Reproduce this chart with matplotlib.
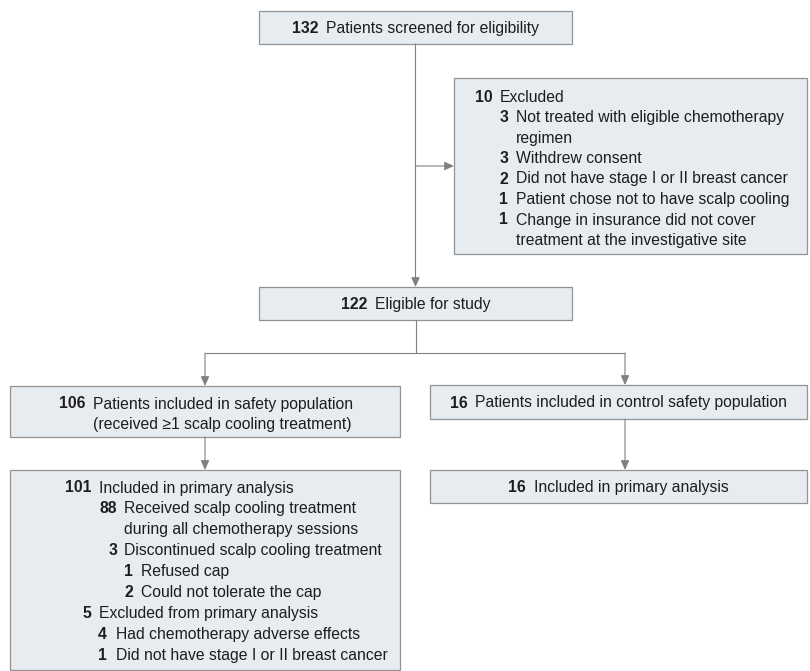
import matplotlib
matplotlib.use("Agg")
import matplotlib.pyplot as plt
from matplotlib.patches import Rectangle, FancyArrowPatch
from matplotlib import font_manager

# ---------------- data ----------------
screened_n = 132
screened_label = "Patients screened for eligibility"

excluded_n = 10
excluded_label = "Excluded"
excluded_reason_n = [3, 3, 2, 1, 1]
excluded_reason_labels = [
    "Not treated with eligible chemotherapy\nregimen",
    "Withdrew consent",
    "Did not have stage I or II breast cancer",
    "Patient chose not to have scalp cooling",
    "Change in insurance did not cover\ntreatment at the investigative site",
]

eligible_n = 122
eligible_label = "Eligible for study"

safety_n = 106
safety_label = "Patients included in safety population\n(received \u22651 scalp cooling treatment)"

control_n = 16
control_label = "Patients included in control safety population"

control_primary_n = 16
control_primary_label = "Included in primary analysis"

primary_n = [101, 88, 3, 1, 2, 5, 4, 1]
primary_labels = [
    "Included in primary analysis",
    "Received scalp cooling treatment\nduring all chemotherapy sessions",
    "Discontinued scalp cooling treatment",
    "Refused cap",
    "Could not tolerate the cap",
    "Excluded from primary analysis",
    "Had chemotherapy adverse effects",
    "Did not have stage I or II breast cancer",
]

# ---------------- style ----------------
available = {f.name for f in font_manager.fontManager.ttflist}
FONT = ["DejaVu Sans"]
for cand in ["Liberation Sans", "Arial", "DejaVu Sans"]:
    if cand in available:
        FONT = [cand, "DejaVu Sans"]
        break
TXT = "#1f1c1d"
FILL = "#e6ecf0"
EDGE = "#939393"
LINE = "#808080"

fig = plt.figure(figsize=(8.10, 6.71), dpi=100)
ax = fig.add_axes([0, 0, 1, 1])
ax.set_xlim(0, 810)
ax.set_ylim(671, 0)
ax.axis("off")
renderer = fig.canvas.get_renderer()

# size the font so the reference width of the first label is matched
_probe = ax.text(0, 0, screened_label, fontsize=10, family=FONT)
_w = _probe.get_window_extent(renderer).width
_probe.remove()
FS = 10 * 213.0 / _w

GAP = 8
CAP = 5.5  # half cap height, px


def box(x0, y0, x1, y1):
    ax.add_patch(Rectangle((x0, y0), x1 - x0, y1 - y0, facecolor=FILL,
                           edgecolor=EDGE, linewidth=0.9, zorder=1))


def arrow(p0, p1):
    ax.add_patch(FancyArrowPatch(p0, p1,
                                 arrowstyle="-|>,head_length=0.6,head_width=0.27",
                                 mutation_scale=9.5, color=LINE, linewidth=0.8,
                                 shrinkA=0, shrinkB=0, zorder=2))


def line(xs, ys):
    ax.plot(xs, ys, color=LINE, linewidth=0.8, solid_capstyle="butt", zorder=2)


def item_lines(num_right, text_left, yc, n, label, spacing):
    parts = label.split("\n")
    ax.text(num_right, yc + CAP, str(n), ha="right", va="baseline",
            fontsize=FS, fontweight="bold", family=FONT, color=TXT, zorder=3)
    for i, p in enumerate(parts):
        ax.text(text_left, yc + CAP + i * spacing, p, ha="left", va="baseline",
                fontsize=FS, family=FONT, color=TXT, zorder=3)
    return len(parts)


def centered(xc, yc, n, label):
    tn = ax.text(0, yc + CAP, str(n), ha="left", va="baseline", fontsize=FS,
                 fontweight="bold", family=FONT, color=TXT, zorder=3)
    tl = ax.text(0, yc + CAP, label, ha="left", va="baseline", fontsize=FS,
                 family=FONT, color=TXT, zorder=3)
    wn = tn.get_window_extent(renderer).width
    wl = tl.get_window_extent(renderer).width
    x0 = xc - (wn + GAP + wl) / 2
    tn.set_x(x0)
    tl.set_x(x0 + wn + GAP)


# ---------------- boxes ----------------
box(259, 11, 572, 44)
centered(415.5, 27.5, screened_n, screened_label)

box(454, 78, 807, 254)
sp = 20.5
item_lines(493, 500, 96, excluded_n, excluded_label, sp)
y = 96 + sp
for n, lab in zip(excluded_reason_n, excluded_reason_labels):
    k = item_lines(508, 516, y, n, lab, sp)
    y += k * sp

box(259, 287, 572, 320)
centered(415.5, 303.5, eligible_n, eligible_label)

box(10, 386, 400, 437)
item_lines(85, 93, 403, safety_n, safety_label, 20.5)

box(430, 385, 807, 419)
centered(618.5, 402, control_n, control_label)

box(430, 470, 807, 503)
centered(618.5, 486.5, control_primary_n, control_primary_label)

box(10, 470, 400, 670)
num_right = [91, 117, 117, 133, 133, 91, 107, 107]
text_left = [99, 124, 124, 141, 141, 99, 116, 116]
sp2 = 20.9
y = 487
for n, lab, nr, tlx in zip(primary_n, primary_labels, num_right, text_left):
    k = item_lines(nr, tlx, y, n, lab, sp2)
    y += k * sp2

# ---------------- connectors ----------------
arrow((415.5, 44), (415.5, 287))
arrow((415.5, 166), (454, 166))
line([415.5, 415.5], [320, 353])
line([205, 625], [353, 353])
arrow((205, 353), (205, 386))
arrow((625, 353), (625, 385))
arrow((205, 437), (205, 470))
arrow((625, 419), (625, 470))

fig.savefig("out.png", dpi=100, facecolor="white")
